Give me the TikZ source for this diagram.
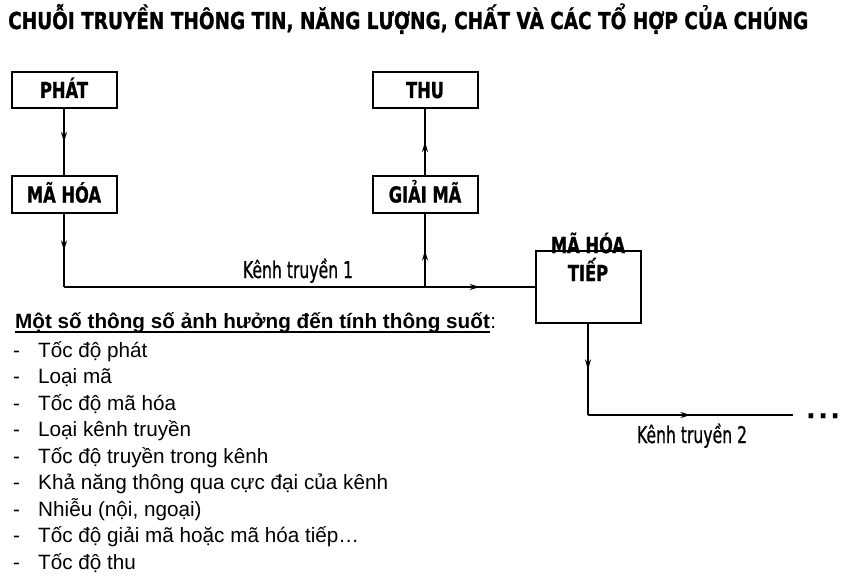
\documentclass[tikz,border=0pt]{standalone}
\usepackage{fontspec}
\usepackage{graphicx}
\setmainfont{Liberation Sans}
\newfontfamily\heavyfont[FakeStretch=0.74,FakeBold=1]{DejaVu Sans}
\newfontfamily\titlefont[FakeBold=1.2]{DejaVu Sans}
\newfontfamily\narrowfont[FakeStretch=0.68,FakeBold=0.7]{DejaVu Sans}
\usetikzlibrary{arrows.meta,decorations.markings}
\tikzset{
  block/.style={draw,line width=2pt,minimum width=105pt,inner sep=0pt,
    text height=16pt,text depth=0pt,
    align=center,font=\heavyfont\bfseries\fontsize{22}{28}\selectfont},
  link/.style={line width=2pt},
  midarrow/.style={decoration={markings,
    mark=at position 0.5 with {\arrow{Stealth[length=10pt,width=6pt]}}},
    postaction={decorate}},
  chan/.style={anchor=base,inner sep=0pt,font=\narrowfont\fontsize{23}{26}\selectfont},
  item/.style={anchor=base west,inner sep=0pt,font=\fontsize{20.7}{26}\selectfont}
}

\begin{document}
\begin{tikzpicture}[x=1pt,y=-1pt]
  \useasboundingbox (0,0) rectangle (845,583);
  % title
  \node[anchor=base west,inner sep=0pt] (title) at (8,29)
    {\resizebox{800pt}{\height}{\titlefont\bfseries\fontsize{23.3}{28}\selectfont
     CHUỖI TRUYỀN THÔNG TIN, NĂNG LƯỢNG, CHẤT VÀ CÁC TỔ HỢP CỦA CHÚNG}};
  % blocks
  \node[block,minimum height=36pt] (phat)   at (64,90)    {PHÁT};
  \node[block,minimum height=37pt] (mahoa)  at (64,194.5) {MÃ HÓA};
  \node[block,minimum height=36pt] (thu)    at (425,90)   {THU};
  \node[block,minimum height=37pt] (giaima) at (425,194.5){GIẢI MÃ};
  \node[block,minimum height=72pt,text depth=28pt] (tiep) at (588,287) {MÃ HÓA\\TIẾP};
  \coordinate (c1) at (64,287);
  \coordinate (j1) at (425,287);
  \coordinate (c2) at (588,415);
  \coordinate (c3) at (793,415);
  % connectors
  \draw[link,midarrow] (phat) -- (mahoa);
  \draw[link,midarrow] (mahoa) -- (c1);
  \draw[link] (c1) -- (j1);
  \draw[link,midarrow] (j1) -- (tiep);
  \draw[link,midarrow] (j1) -- (giaima);
  \draw[link,midarrow] (giaima) -- (thu);
  \draw[link,midarrow] (tiep) -- (c2);
  \draw[link,midarrow] (c2) -- (c3);
  \node[chan] (kenh1) at (298,278) {Kênh truyền 1};
  \node[chan] (kenh2) at (692,443) {Kênh truyền 2};
  \node[anchor=base,inner sep=0pt] (more) at (823,418)
    {\titlefont\bfseries\fontsize{24}{24}\selectfont.\hspace{3pt}.\hspace{3pt}.};
  % parameters
  \node[item,font=\fontsize{20.7}{26}\selectfont\bfseries] (heading) at (15,328)
    {Một số thông số ảnh hưởng đến tính thông suốt};
  \node[item] (colon) at (heading.base east) {:};
  \draw[line width=1.3pt] ([yshift=-4pt]heading.base west) -- ([yshift=-4pt]heading.base east);
  \foreach \txt [count=\i from 0] in {Tốc độ phát, Loại mã, Tốc độ mã hóa,
      Loại kênh truyền, Tốc độ truyền trong kênh,
      Khả năng thông qua cực đại của kênh, {Nhiễu (nội, ngoại)},
      Tốc độ giải mã hoặc mã hóa tiếp…, Tốc độ thu}{
    \node[item] (dash\i) at (13,{357+26.5*\i}) {-};
    \node[item] (par\i) at (38,{357+26.5*\i}) {\txt};
  }
\end{tikzpicture}
\end{document}
